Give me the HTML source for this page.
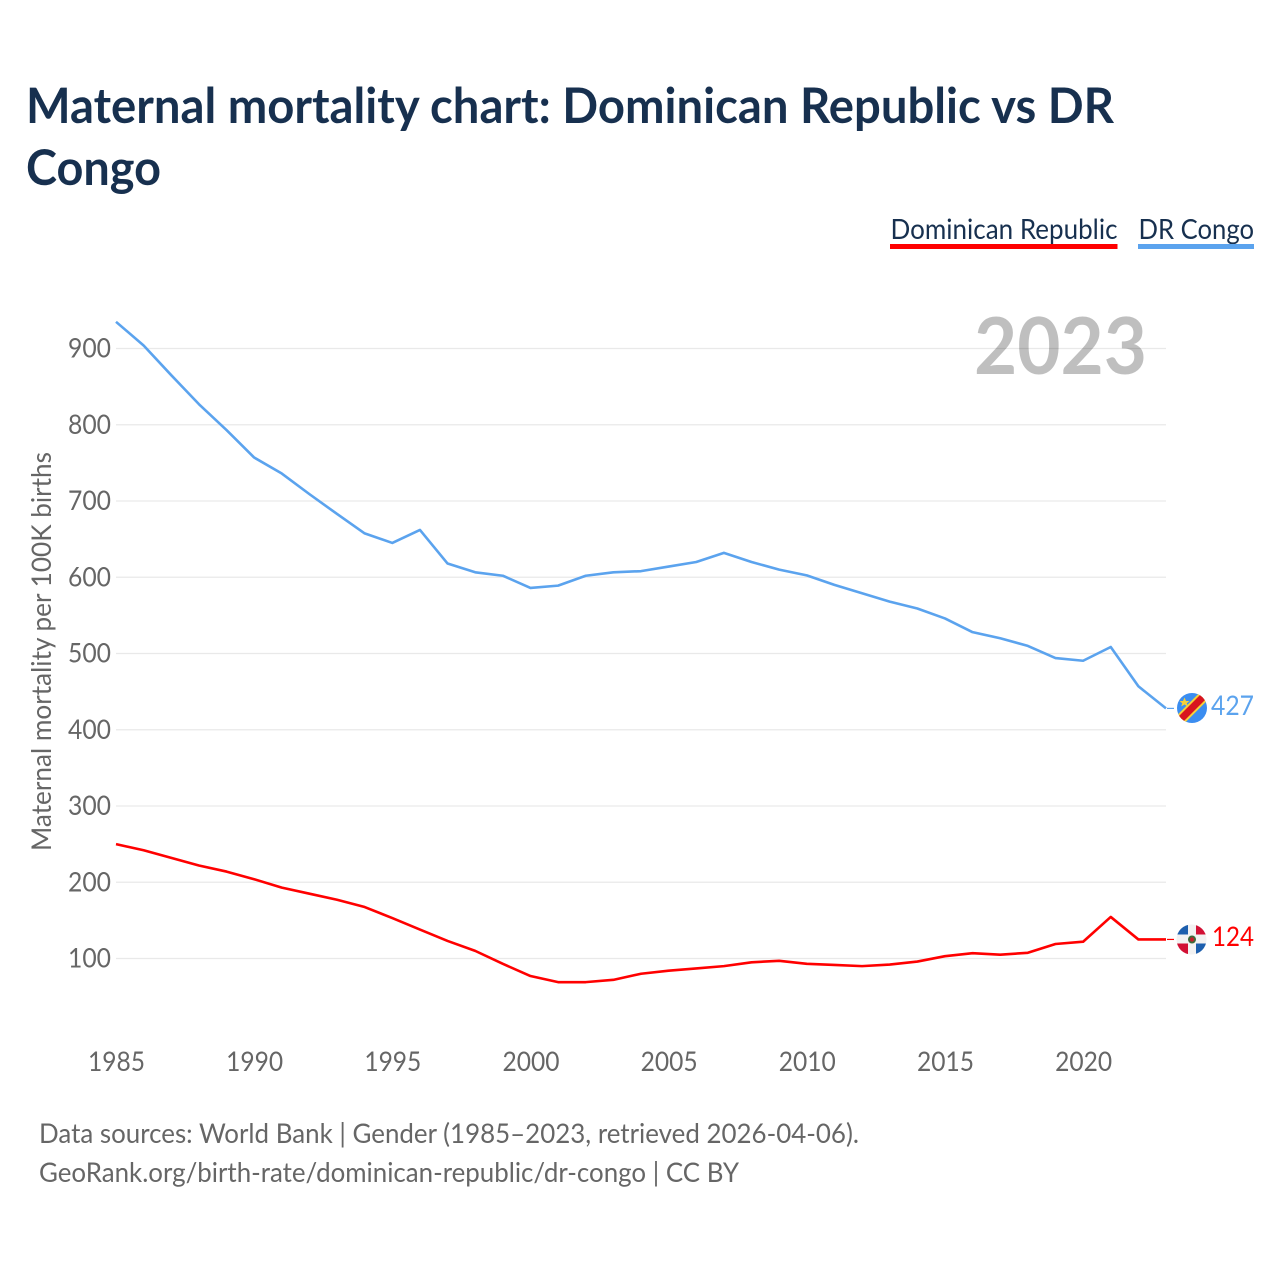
<!DOCTYPE html>
<html lang="en">
<head>
<meta charset="utf-8">
<title>Maternal mortality chart: Dominican Republic vs DR Congo</title>
<style>
html,body{margin:0;padding:0;background:#fff;}
svg{display:block;font-family:"Lato","Carlito","Liberation Sans",sans-serif;}
</style>
</head>
<body>
<svg id="chart" xmlns="http://www.w3.org/2000/svg" width="1280" height="1280" viewBox="0 0 1280 1280">
  <rect width="1280" height="1280" fill="#ffffff"/>
  <text x="26" y="123" font-size="49" font-weight="700" fill="#17304f" textLength="1088" lengthAdjust="spacingAndGlyphs">Maternal mortality chart: Dominican Republic vs DR</text>
  <text x="26" y="185" font-size="49" font-weight="700" fill="#17304f" textLength="135" lengthAdjust="spacingAndGlyphs">Congo</text>

  <g>
    <text x="890.500" y="239" font-size="28" fill="#17304f" textLength="227" lengthAdjust="spacingAndGlyphs">Dominican Republic</text>
    <rect x="890" y="244" width="227.500" height="5" fill="#ff0000"/>
  </g>
  <g>
    <text x="1138.500" y="239" font-size="28" fill="#17304f" textLength="115.500" lengthAdjust="spacingAndGlyphs">DR Congo</text>
    <rect x="1138" y="244" width="116" height="5" fill="#5ba3ee"/>
  </g>

  <g id="grid"></g>
  <g id="yticks"></g>
  <g id="xticks"></g>

  <text x="1147" y="374" text-anchor="end" font-size="79" font-weight="700" fill="#000000" fill-opacity="0.25" textLength="173" lengthAdjust="spacingAndGlyphs">2023</text>

  <text transform="translate(51 851) rotate(-90)" font-size="27" fill="#666666" textLength="399" lengthAdjust="spacingAndGlyphs">Maternal mortality per 100K births</text>

  <g id="series"></g>

  <defs>
    <clipPath id="clip-cd"><circle cx="1192" cy="708" r="15"/></clipPath>
    <clipPath id="clip-do"><circle cx="1191.500" cy="939.500" r="15"/></clipPath>
  </defs>
  <g clip-path="url(#clip-cd)">
    <rect x="1177" y="693" width="30" height="30" fill="#3b8df0"/>
    <line x1="1175" y1="725" x2="1209" y2="691" stroke="#f7d038" stroke-width="11"/>
    <line x1="1175" y1="725" x2="1209" y2="691" stroke="#d8141f" stroke-width="7"/>
    <polygon points="1184.500,697.500 1186,701 1189.500,701 1186.800,703.200 1187.800,706.500 1184.500,704.500 1181.200,706.500 1182.200,703.200 1179.500,701 1183,701" fill="#f7d038"/>
  </g>
  <g clip-path="url(#clip-do)">
    <rect x="1176" y="924" width="31" height="32" fill="#f2f2f2"/>
    <rect x="1176" y="924" width="12" height="10.500" fill="#1d5fae"/>
    <rect x="1196" y="924" width="11" height="10.500" fill="#d21034"/>
    <rect x="1176" y="943.500" width="12" height="12" fill="#d21034"/>
    <rect x="1196" y="943.500" width="11" height="12" fill="#1d5fae"/>
    <circle cx="1192" cy="939.500" r="4" fill="#3c6b3a"/>
    <circle cx="1192" cy="939.500" r="2.200" fill="#c0202c"/>
  </g>
  <text id="label-cd" x="1254" y="715" text-anchor="end" font-size="27" fill="#5ba3ee" textLength="43" lengthAdjust="spacingAndGlyphs"></text>
  <text id="label-do" x="1254" y="946" text-anchor="end" font-size="27" fill="#ff0000" textLength="42" lengthAdjust="spacingAndGlyphs"></text>

  <text x="39" y="1143" font-size="27" fill="#666666" textLength="820" lengthAdjust="spacingAndGlyphs">Data sources: World Bank | Gender (1985–2023, retrieved 2026-04-06).</text>
  <text x="39" y="1182" font-size="27" fill="#666666" textLength="700" lengthAdjust="spacingAndGlyphs">GeoRank.org/birth-rate/dominican-republic/dr-congo | CC BY</text>
</svg>
<script>
const years = [1985,1986,1987,1988,1989,1990,1991,1992,1993,1994,1995,1996,1997,1998,1999,2000,2001,2002,2003,2004,2005,2006,2007,2008,2009,2010,2011,2012,2013,2014,2015,2016,2017,2018,2019,2020,2021,2022,2023];
const drCongo = [935,904,865,827,793,757,736,709,683,657.500,645,662,618,606.500,602,586,589,602,606.500,608,614,620,632,620,610,602.500,590,579,568,559,546,528,520,510,494,490.500,508.500,457,428];
const dominicanRepublic = [250,242,232,222,214,204,193,185,177,167.500,153,138,123,110,93,77,69,69,72,80,84,87,90,95,97,93,91.500,90,92,96,103,107,105,107.500,119,122,154.500,125,125];
const endValueLabels = [427,124];
const yTickValues = [100,200,300,400,500,600,700,800,900];
const xTickValues = [1985,1990,1995,2000,2005,2010,2015,2020];

const SVG_NS = 'http://www.w3.org/2000/svg';
const xScale = function (year) { return 116 + (year - 1985) * (1050 / 38); };
const yScale = function (value) { return 958.5 - (value - 100) * 0.7625; };

const gridGroup = document.getElementById('grid');
const yTickGroup = document.getElementById('yticks');
const xTickGroup = document.getElementById('xticks');
const seriesGroup = document.getElementById('series');

yTickValues.forEach(function (value) {
  const line = document.createElementNS(SVG_NS, 'line');
  
  
  line.setAttribute('x1', 116);
  line.setAttribute('x2', 1166);
  line.setAttribute('y1', yScale(value));
  line.setAttribute('y2', yScale(value));
  line.setAttribute('stroke', '#e9e9e9');
  line.setAttribute('stroke-width', 1.2);
  gridGroup.appendChild(line);

  const label = document.createElementNS(SVG_NS, 'text');
  
  
  label.setAttribute('x', 111);
  label.setAttribute('y', yScale(value) + 9);
  label.setAttribute('text-anchor', 'end');
  label.setAttribute('font-size', 27);
  label.setAttribute('fill', '#666666');
  label.setAttribute('textLength', 43);
  label.setAttribute('lengthAdjust', 'spacingAndGlyphs');
  label.textContent = String(value);
  yTickGroup.appendChild(label);
});

xTickValues.forEach(function (year) {
  const label = document.createElementNS(SVG_NS, 'text');
  
  
  label.setAttribute('x', xScale(year) + 0.5);
  label.setAttribute('y', 1071);
  label.setAttribute('text-anchor', 'middle');
  label.setAttribute('font-size', 27);
  label.setAttribute('fill', '#666666');
  label.setAttribute('textLength', 57);
  label.setAttribute('lengthAdjust', 'spacingAndGlyphs');
  label.textContent = String(year);
  xTickGroup.appendChild(label);
});

function drawSeries(values, color, name) {
  const d = values.map(function (value, i) {
    return (i === 0 ? 'M' : 'L') + xScale(years[i]).toFixed(2) + ' ' + yScale(value).toFixed(2);
  }).join(' ');
  const path = document.createElementNS(SVG_NS, 'path');
  
  
  path.setAttribute('d', d);
  path.setAttribute('fill', 'none');
  path.setAttribute('stroke', color);
  path.setAttribute('stroke-width', 2.6);
  path.setAttribute('stroke-linejoin', 'round');
  seriesGroup.appendChild(path);

  const lastY = yScale(values[values.length - 1]);
  const connector = document.createElementNS(SVG_NS, 'line');
  
  
  connector.setAttribute('x1', 1167);
  connector.setAttribute('x2', 1174);
  connector.setAttribute('y1', lastY);
  connector.setAttribute('y2', lastY);
  connector.setAttribute('stroke', color);
  connector.setAttribute('stroke-width', 1.2);
  seriesGroup.appendChild(connector);
}

drawSeries(drCongo, '#5ba3ee', 'dr-congo');
drawSeries(dominicanRepublic, '#ff0000', 'dominican-republic');

document.getElementById('label-cd').textContent = String(endValueLabels[0]);
document.getElementById('label-do').textContent = String(endValueLabels[1]);
</script>
</body>
</html>
